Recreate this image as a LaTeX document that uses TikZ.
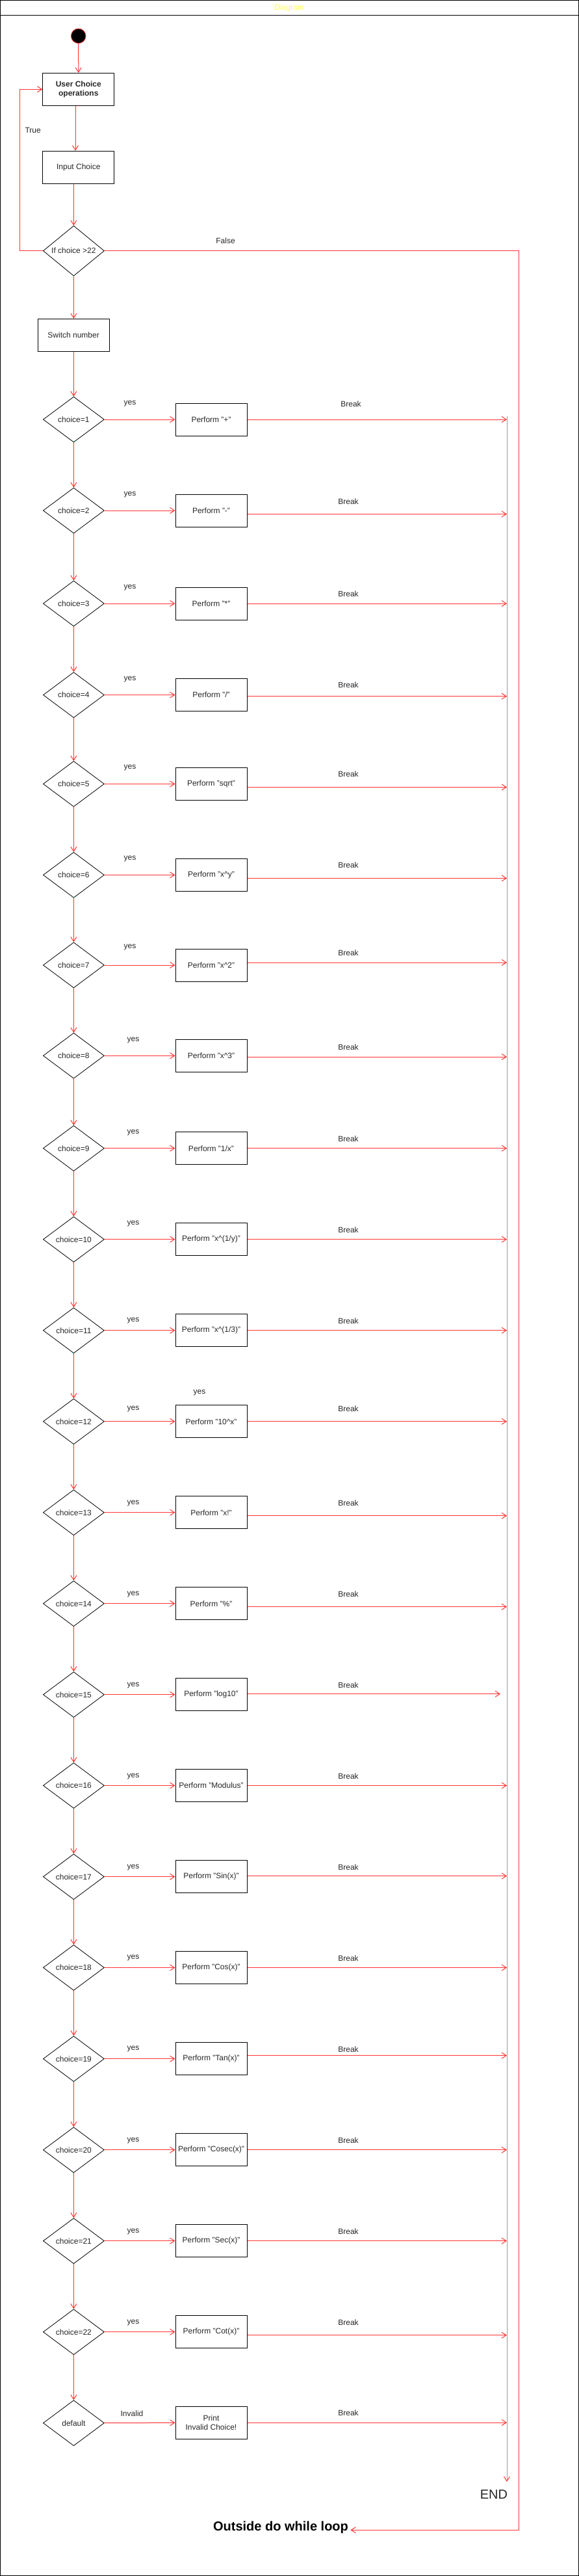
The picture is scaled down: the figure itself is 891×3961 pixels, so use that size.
\documentclass[tikz,border=0pt]{standalone}
\usepackage{fontspec}
\setmainfont{Liberation Sans}
\usetikzlibrary{shapes.geometric,arrows.meta,calc}
\definecolor{redc}{HTML}{FF3333}
\definecolor{titley}{HTML}{FFFF55}
\definecolor{grayl}{HTML}{999999}
% #1 index, #2 y, #3 text, #4 yes dy, #5 yes x, #6 break dy, #7 break x, #8 line dy, #9 end x
\newcommand\mkrow[9]{%
  \node[dia] (d#1) at (113.4,#2) {choice=#1};
  \node[pbox] (p#1) at (325,#2) {#3};
  \node[lbl] (y#1) at ({#5},{#2+(#4)}) {yes};
  \node[lbl] (k#1) at ({#7},{#2+(#6)}) {Break};
  \coordinate (e#1) at ({#9},{#2+(#8)});
  \draw[rarr] (d#1.east) -- (p#1.west);
  \draw[rarr] (p#1.east |- e#1) -- (e#1);
}
\begin{document}
\begin{tikzpicture}[x=1pt,y=-1pt,
  every node/.style={font=\fontsize{12}{14.3}\selectfont,text=black!85},
  lbl/.style={inner sep=0pt},
  pbox/.style={draw=black,line width=1pt,minimum width=110pt,minimum height=50pt,inner sep=0pt,align=center},
  dia/.style={diamond,draw=black,line width=0.8pt,minimum width=94pt,minimum height=70pt,inner sep=0pt},
  rarr/.style={draw=redc,line width=1pt,-{Straight Barb[length=7pt,width=9pt]}},
  rline/.style={draw=redc,line width=1pt}]
\useasboundingbox (0,0) rectangle (891,3961);
% frame
\draw[line width=1.2pt] (0.6,0.6) rectangle (890.4,3960.4);
\draw[line width=1.2pt] (0,23.3) -- (891,23.3);
\node[lbl,text=titley] (title) at (445,12.7) {Diagram};
% top part
\node[circle,fill=black,draw=redc,line width=0.8pt,minimum size=22.6pt,inner sep=0pt] (st) at (120.7,55.3) {};
\node[pbox,font=\bfseries\fontsize{12}{14.3}\selectfont] (uc) at (120.8,137.3) {User Choice\\operations};
\node[pbox] (ic) at (120.8,257.2) {Input Choice};
\node[dia] (ifd) at (113.4,385.7) {If choice >22};
\node[pbox] (sw) at (113.1,515.3) {Switch number};
\draw[rarr] (st) -- (uc);
\draw[rarr] ([xshift=-4.8pt]uc.south) -- ([xshift=-4.8pt]ic.north);
\draw[rarr] (ic.south -| ifd.north) -- (ifd.north);
\draw[rarr] (ifd.south) -- (sw.north -| ifd.south);
% loop back
\draw[rarr] (ifd.west) -- ++(-36,0) |- (uc.west);
\node[lbl] (true) at (50.7,200.7) {True};
\node[lbl] (false) at (347,370.7) {False};
% rows
\mkrow{1}{645}{Perform "+"}{-24}{200}{-24}{540}{0}{780}
\mkrow{2}{785}{Perform "-"}{-24}{200}{-14}{536}{5.5}{780}
\mkrow{3}{928}{Perform "*"}{-24}{200}{-14.6}{536}{0}{780}
\mkrow{4}{1068.6}{Perform "/"}{-24.5}{200}{-15}{536}{2}{780}
\mkrow{5}{1205.4}{Perform "sqrt"}{-24.5}{200}{-15}{536}{5}{780}
\mkrow{6}{1345.4}{Perform "x\textasciicircum y"}{-24.5}{200}{-15}{536}{5}{780}
\mkrow{7}{1484}{Perform "x\textasciicircum 2"}{-27.7}{200}{-19}{536}{-4}{780}
\mkrow{8}{1623.3}{Perform "x\textasciicircum 3"}{-24.3}{205}{-12.7}{536}{1.7}{780}
\mkrow{9}{1765.7}{Perform "1/x"}{-24.7}{205}{-15}{536}{0}{780}
\mkrow{10}{1905.7}{Perform "x\textasciicircum(1/y)"}{-24.7}{205}{-15}{536}{0}{780}
\mkrow{11}{2045.7}{Perform "x\textasciicircum(1/3)"}{-15}{205}{-15}{536}{0}{780}
\mkrow{12}{2185.7}{Perform "10\textasciicircum x"}{-19.7}{205}{-20}{536}{0}{780}
\mkrow{13}{2325.7}{Perform "x!"}{-14.6}{205}{-14.6}{536}{5}{780}
\mkrow{14}{2465.7}{Perform "\%"}{-14.6}{205}{-14.6}{536}{5}{780}
\mkrow{15}{2605.7}{Perform "log10"}{-14.6}{205}{-14.6}{536}{-1}{770}
\mkrow{16}{2745.5}{Perform "Modulus"}{-14.3}{205}{-14.3}{536}{0}{780}
\mkrow{17}{2885.7}{Perform "Sin(x)"}{-14.5}{205}{-14.5}{536}{-1}{780}
\mkrow{18}{3025.5}{Perform "Cos(x)"}{-14.8}{205}{-14.8}{536}{0}{780}
\mkrow{19}{3165.7}{Perform "Tan(x)"}{-14.8}{205}{-14.8}{536}{-5}{780}
\mkrow{20}{3305.8}{Perform "Cosec(x)"}{-14.8}{205}{-14.8}{536}{0}{780}
\mkrow{21}{3445.7}{Perform "Sec(x)"}{-14.7}{205}{-15}{536}{0}{780}
\mkrow{22}{3585.7}{Perform "Cot(x)"}{-14.7}{205}{-15}{536}{5}{780}
\node[lbl] (yx) at (307,2141) {yes};
\draw[rarr] (sw.south -| d1.north) -- (d1.north);
% default row
\node[dia] (dd) at (113.4,3725.7) {default};
\node[pbox] (pd) at (325,3725.3) {Print\\Invalid Choice!};
\node[lbl] (inv) at (203,3710.7) {Invalid};
\node[lbl] (kd) at (536,3709.7) {Break};
\coordinate (ed) at (780,3725);
\draw[rarr] (dd.east) -- (pd.west);
\draw[rarr] (pd.east |- ed) -- (ed);
% vertical chain
\foreach \a [evaluate=\a as \b using int(\a+1)] in {1,...,21}
  \draw[rarr] (d\a.south) -- (d\b.north);
\draw[rarr] (d22.south) -- (dd.north);
% gray collector line to END
\coordinate (gtop) at (780,640);
\coordinate (garr) at (780,3816);
\draw[draw=grayl,line width=0.6pt,-{Straight Barb[length=7pt,width=9pt,color=redc,line width=1pt]}] (gtop) -- (garr);
\node[lbl,font=\fontsize{20}{24}\selectfont] (endn) at (760,3836) {END};
% false path
\node[font=\bfseries\fontsize{20}{24}\selectfont,text=black] (out) at (432,3886) {Outside do while loop};
\coordinate (fr) at (798,3890.3);
\draw[rarr] (ifd.east) -| (fr) -- (out.east |- fr);
\end{tikzpicture}
\end{document}
